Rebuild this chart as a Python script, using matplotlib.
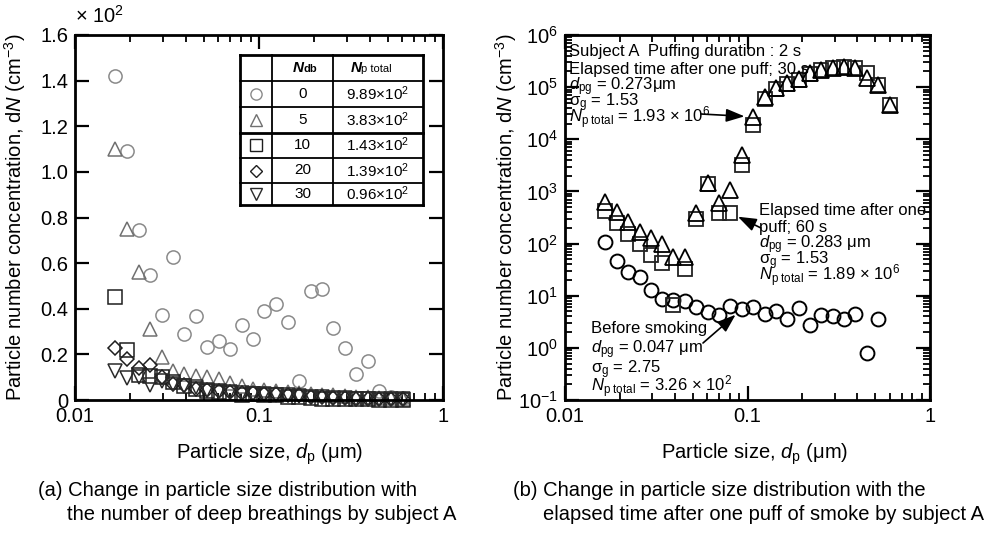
import matplotlib
matplotlib.use("Agg")
import matplotlib.pyplot as plt
from matplotlib.ticker import FixedLocator, FuncFormatter, LogLocator, NullFormatter

plt.rcParams['font.family'] = ['Liberation Sans', 'DejaVu Sans']
plt.rcParams['mathtext.fontset'] = 'custom'
plt.rcParams['mathtext.rm'] = 'Liberation Sans'
plt.rcParams['mathtext.it'] = 'Liberation Sans:italic'
plt.rcParams['mathtext.bf'] = 'Liberation Sans:bold'

# particle size channels, um
dp = [0.0166, 0.0192, 0.0222, 0.0257, 0.0296, 0.0342, 0.0393, 0.0453, 0.0523, 0.0605,
      0.0697, 0.0806, 0.0932, 0.107, 0.124, 0.143, 0.165, 0.191, 0.220, 0.254,
      0.294, 0.338, 0.390, 0.450, 0.520, 0.604]

# (a) dN in units of 1e2 cm^-3, one list per number of deep breathings
ndb_0 = [1.42, 1.09, 0.745, 0.547, 0.374, 0.629, 0.288, 0.368, 0.232, 0.257,
         0.225, 0.328, 0.269, 0.392, 0.422, 0.342, 0.085, 0.476, 0.485, 0.315,
         0.230, 0.115, 0.171, 0.040, 0.012, 0.008]
ndb_5 = [1.10, 0.75, 0.56, 0.31, 0.19, 0.125, 0.115, 0.105, 0.10, 0.09,
         0.075, 0.062, 0.05, 0.045, 0.04, 0.035, 0.03, 0.026, 0.022, 0.02,
         0.018, 0.015, 0.012, 0.01, 0.008, 0.006]
ndb_10 = [0.45, 0.22, 0.11, 0.105, 0.10, 0.08, 0.06, 0.05, 0.04, 0.035,
          0.03, 0.02, 0.025, 0.02, 0.02, 0.015, 0.012, 0.01, 0.005, 0.005,
          0.004, 0.003, 0.003, 0.002, 0.002, 0.002]
ndb_20 = [0.23, 0.18, 0.14, 0.155, 0.10, 0.07, 0.065, 0.05, 0.045, 0.04,
          0.035, 0.03, 0.03, 0.025, 0.025, 0.02, 0.02, 0.015, 0.012, 0.01,
          0.008, 0.006, 0.005, 0.004, 0.003, 0.003]
ndb_30 = [0.125, 0.095, 0.10, 0.065, 0.085, 0.07, 0.06, 0.055, 0.045, 0.04,
          0.035, 0.03, 0.028, 0.025, 0.022, 0.02, 0.018, 0.015, 0.012, 0.01,
          0.008, 0.006, 0.005, 0.004, 0.003, 0.003]

ndb_labels = ["0", "5", "10", "20", "30"]
np_total_labels = ["9.89", "3.83", "1.43", "1.39", "0.96"]

# (b) dN in cm^-3
before_smoking = [105, 46, 29, 22.5, 13, 8.5, 8.3, 8.0, 6.1, 4.8,
                  4.2, 6.4, 5.5, 6.0, 4.5, 5.0, 3.5, 5.7, 2.7, 4.2,
                  4.1, 3.5, 4.5, 0.78, 3.5, None]
after_30s = [640, 410, 265, 170, 130, 100, 55, 55, 380, 1440,
             600, 1080, 5000, 27000, 65000, 95000, 122000, 145000, 185000, 212000,
             236000, 245000, 228000, 152000, 109000, 46000]
after_60s = [415, 250, 150, 96, 60, 42, 6.5, 33, 300, 1400,
             385, 385, 3200, 19000, 58000, 92000, 115000, 135000, 175000, 210000,
             236000, 245000, 230000, 183000, 109000, 46000]

W, H = 996, 533
FS = 14.5
fig = plt.figure(figsize=(W / 100, H / 100), dpi=100)


def add_ax(l, t, r, b):
    return fig.add_axes([l / W, 1 - b / H, (r - l) / W, (b - t) / H])


def frame(ax):
    for s in ax.spines.values():
        s.set_linewidth(2)
    ax.tick_params(which='both', direction='in', top=True, right=True,
                   width=1.6, labelsize=FS, pad=5)
    ax.tick_params(which='major', length=10)
    ax.tick_params(which='minor', length=5, width=1.3)
    ax.set_xscale('log')
    ax.set_xlim(0.01, 1)
    ax.xaxis.set_major_locator(FixedLocator([0.01, 0.1, 1]))
    ax.xaxis.set_major_formatter(FuncFormatter(lambda v, p: f"{v:g}"))
    ax.xaxis.set_minor_locator(LogLocator(base=10, subs=range(2, 10), numticks=100))
    ax.xaxis.set_minor_formatter(NullFormatter())
    ax.set_xlabel(r"Particle size, $d_\mathrm{p}$ ($\mathrm{\mu}$m)", fontsize=FS)
    ax.set_ylabel(r"Particle number concentration, d$N$ (cm$^{-3}$)", fontsize=FS)


def pts(ax, y, marker, color, ms=8.5, mew=1.0):
    xs = [x for x, v in zip(dp, y) if v is not None]
    ys = [v for v in y if v is not None]
    ax.plot(xs, ys, ls='none', marker=marker, ms=ms, mfc='none', mec=color,
            mew=mew, clip_on=False)


# ---- (a) deep breathings ----
axa = add_ax(75, 35, 443, 400)
frame(axa)
axa.set_ylim(0, 1.6)
axa.yaxis.set_major_locator(FixedLocator([0, 0.2, 0.4, 0.6, 0.8, 1.0, 1.2, 1.4, 1.6]))
axa.yaxis.set_major_formatter(FuncFormatter(lambda v, p: "0" if v == 0 else f"{v:.1f}"))
axa.xaxis.set_label_coords(0.53, -0.115)
axa.yaxis.set_label_coords(-0.128, 0.5)

styles_a = [('o', '#8a8a8a', 9.5), ('^', '#707070', 10), ('s', '#1e1e1e', 9.5),
            ('D', '#1e1e1e', 7), ('v', '#2a2a2a', 10)]
for ser, (m, c, ms) in zip([ndb_0, ndb_5, ndb_10, ndb_20, ndb_30], styles_a):
    pts(axa, ser, m, c, ms=ms, mew=1.1)

fig.text(75 / W, 1 - 16 / H, r"× 10$^2$", fontsize=FS, va='center')

# table inside (a), axes-fraction coords
tx = [(240 - 75) / 368, (271.7 - 75) / 368, (333.3 - 75) / 368, (422.7 - 75) / 368]
ty = [1 - (v - 35) / 365 for v in (55, 81, 107.3, 132.7, 157.7, 183.3, 205)]
T = axa.transAxes
for i, y in enumerate(ty):
    lw = 2.0 if i in (0, 3, 6) else 1.3
    axa.plot([tx[0], tx[-1]], [y, y], color='k', lw=lw, transform=T, clip_on=False)
for j, x in enumerate(tx):
    lw = 2.0 if j in (0, 3) else 1.3
    axa.plot([x, x], [ty[0], ty[-1]], color='k', lw=lw, transform=T, clip_on=False)

hy = (ty[0] + ty[1]) / 2
c1 = (tx[1] + tx[2]) / 2
c2 = (tx[2] + tx[3]) / 2
axa.text(c1 + 0.003, hy, "N", fontsize=11, fontweight='bold', fontstyle='italic',
         ha='right', va='center', transform=T)
axa.text(c1 + 0.003, hy - 0.002, "db", fontsize=8, fontweight='bold', ha='left',
         va='center', transform=T)
axa.text(c2 - 0.045, hy, "N", fontsize=11, fontweight='bold', fontstyle='italic',
         ha='right', va='center', transform=T)
axa.text(c2 - 0.045, hy - 0.002, "p total", fontsize=8, ha='left', va='center',
         transform=T)
c0 = (tx[0] + tx[1]) / 2
for k, (m, c, ms) in enumerate(styles_a):
    ry = (ty[k + 1] + ty[k + 2]) / 2
    axa.plot([c0], [ry], ls='none', marker=m, ms=ms * 0.85, mfc='none', mec=c,
             mew=1.0, transform=T, clip_on=False)
    axa.text(c1, ry, ndb_labels[k], fontsize=11, ha='center', va='center', transform=T)
    axa.text(c2, ry, np_total_labels[k] + r"×10$^2$", fontsize=11, ha='center',
             va='center', transform=T)

# ---- (b) one puff ----
axb = add_ax(565, 35, 930, 400)
frame(axb)
axb.set_yscale('log')
axb.set_ylim(1e-1, 1e6)
axb.yaxis.set_major_locator(LogLocator(base=10, numticks=100))
axb.yaxis.set_minor_locator(LogLocator(base=10, subs=range(2, 10), numticks=100))
axb.yaxis.set_minor_formatter(NullFormatter())
axb.xaxis.set_label_coords(0.52, -0.115)
axb.yaxis.set_label_coords(-0.125, 0.5)

pts(axb, before_smoking, 'o', 'k', ms=10, mew=1.4)
pts(axb, after_60s, 's', '#222222', ms=10, mew=1.3)
pts(axb, after_30s, '^', 'k', ms=11, mew=1.3)


def fx(x):
    return (x - 565) / 365


def fy(y):
    return (400 - y) / 365


TB = axb.transAxes
notes = [
    (569, 56, "Subject A  Puffing duration : 2 s"),
    (569, 74, "Elapsed time after one puff; 30 s"),
    (569, 90, r"$d_\mathrm{pg}$ = 0.273$\mathrm{\mu}$m"),
    (569, 106, r"σ$_\mathrm{g}$ = 1.53"),
    (569, 123, r"$N_\mathrm{p\ total}$ = 1.93 × 10$^6$"),
    (759, 215, "Elapsed time after one"),
    (759, 232, "puff; 60 s"),
    (759, 248, r"$d_\mathrm{pg}$ = 0.283 $\mathrm{\mu}$m"),
    (759, 264, r"σ$_\mathrm{g}$ = 1.53"),
    (759, 281, r"$N_\mathrm{p\ total}$ = 1.89 × 10$^6$"),
    (591, 333, "Before smoking"),
    (591, 353, r"$d_\mathrm{pg}$ = 0.047 $\mathrm{\mu}$m"),
    (591, 373, r"σ$_\mathrm{g}$ = 2.75"),
    (591, 392, r"$N_\mathrm{p\ total}$ = 3.26 × 10$^2$"),
]
for x, y, s in notes:
    axb.text(fx(x), fy(y), s, fontsize=12, ha='left', va='baseline', transform=TB)

arrow = dict(arrowstyle='-|>,head_length=0.7,head_width=0.25', color='k', lw=1.2,
             mutation_scale=16, shrinkA=0, shrinkB=6)
axb.annotate('', xy=(dp[13], after_30s[13]), xycoords='data',
             xytext=(fx(701), fy(114)), textcoords='axes fraction', arrowprops=arrow)
axb.annotate('', xy=(dp[11], after_60s[11]), xycoords='data',
             xytext=(fx(761), fy(228)), textcoords='axes fraction', arrowprops=arrow)
axb.annotate('', xy=(dp[12], before_smoking[12]), xycoords='data',
             xytext=(fx(703), fy(343)), textcoords='axes fraction', arrowprops=arrow)

# captions
fig.text(38 / W, 1 - 490 / H, "(a) Change in particle size distribution with",
         fontsize=FS, va='center')
fig.text(67 / W, 1 - 514 / H, "the number of deep breathings by subject A",
         fontsize=FS, va='center')
fig.text(513 / W, 1 - 490 / H, "(b) Change in particle size distribution with the",
         fontsize=FS, va='center')
fig.text(543 / W, 1 - 514 / H, "elapsed time after one puff of smoke by subject A",
         fontsize=FS, va='center')

fig.savefig("out.png", dpi=100)
